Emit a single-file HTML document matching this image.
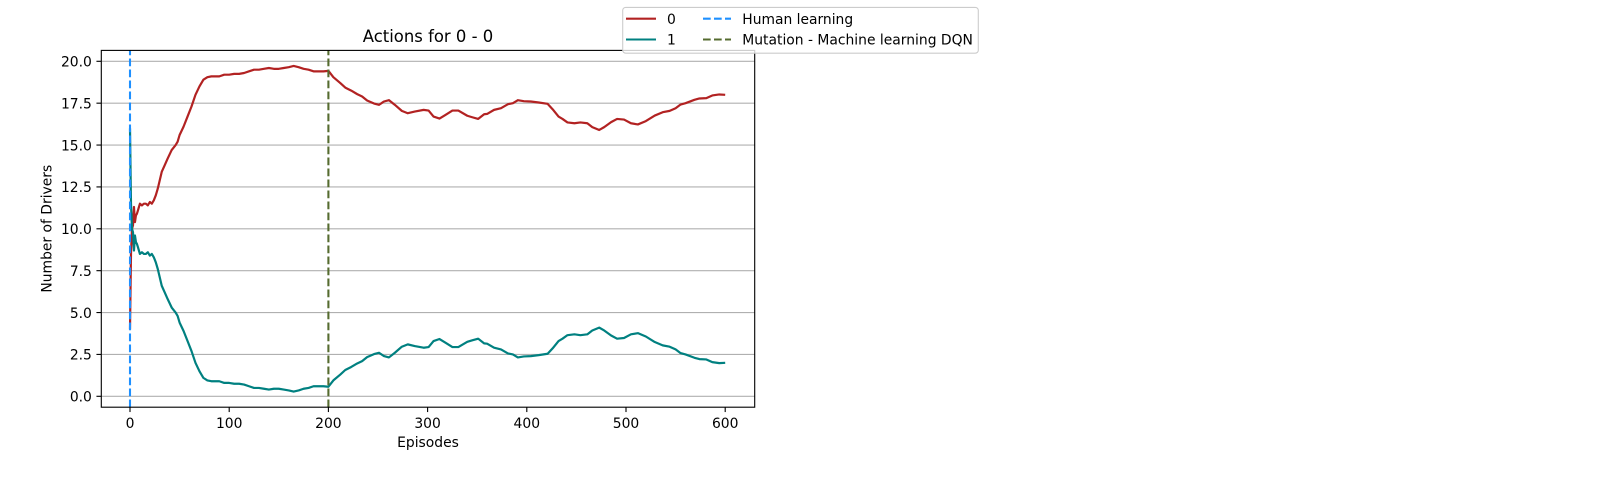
<!DOCTYPE html>
<html>
<head>
<meta charset="utf-8">
<title>Actions for 0 - 0</title>
<style>
html,body{margin:0;padding:0;background:#fff;width:1600px;height:500px;overflow:hidden}
svg{display:block}
text{font-family:"DejaVu Sans","Liberation Sans",sans-serif;fill:#000}
</style>
</head>
<body>
<svg id="chart" width="1600" height="500" viewBox="0 0 1600 500" xmlns="http://www.w3.org/2000/svg">
  <rect x="0" y="0" width="1600" height="500" fill="#fff"/>
  <g id="grid"></g>
  <g id="marks"></g>
  <g id="spines"></g>
  <g id="xticks"></g>
  <g id="yticks"></g>
  <text x="428" y="42" font-size="16.45" text-anchor="middle">Actions for 0 - 0</text>
  <text x="428" y="447" font-size="13.89" text-anchor="middle">Episodes</text>
  <text transform="translate(51.5,228.7) rotate(-90)" x="0" y="0" font-size="13.89" text-anchor="middle">Number of Drivers</text>
  <g>
    <rect x="622.7" y="7.4" width="355.6" height="45.8" rx="3" ry="3" fill="#fff" fill-opacity="0.8" stroke="#ccc" stroke-width="1.1"/>
    <line x1="626" y1="18.7" x2="656" y2="18.7" stroke="#b22222" stroke-width="2.08"/>
    <text x="667" y="24" font-size="13.89">0</text>
    <line x1="626" y1="39.5" x2="656" y2="39.5" stroke="#008080" stroke-width="2.08"/>
    <text x="667" y="44.7" font-size="13.89">1</text>
    <line x1="703" y1="18.7" x2="731" y2="18.7" stroke="#1e90ff" stroke-width="2.08" stroke-dasharray="7.7 3.3"/>
    <text x="742.3" y="24" font-size="13.85">Human learning</text>
    <line x1="703" y1="39.5" x2="731" y2="39.5" stroke="#556b2f" stroke-width="2.08" stroke-dasharray="7.7 3.3"/>
    <text x="742.3" y="44.7" font-size="13.89">Mutation - Machine learning DQN</text>
  </g>
</svg>
<script>
const episodes = [0,1,2,3,4,5,6,7,8,10,12,14,16,18,20,22,24,26,28,30,32,35,38,42,46,48,50,54,58,62,66,70,74,78,82,90,95,100,105,110,115,120,125,130,135,140,145,150,155,160,165,170,175,180,185,190,195,200,205,212,217,223,229,234,239,246,251,256,261,267,274,280,287,296,301,306,312,318,325,331,340,345,351,357,360,367,374,381,386,391,397,404,412,421,426,432,436,441,448,454,461,466,473,478,485,491,498,505,512,520,529,537,544,550,555,560,569,574,581,587,594,600];
const series0 = [4.0,8.5,10.0,10.2,11.3,10.4,10.8,10.9,11.1,11.5,11.4,11.5,11.5,11.4,11.6,11.5,11.7,12.0,12.4,12.9,13.4,13.8,14.2,14.7,15.0,15.2,15.6,16.1,16.7,17.3,18.0,18.5,18.9,19.05,19.1,19.1,19.2,19.2,19.25,19.25,19.3,19.4,19.5,19.5,19.55,19.6,19.55,19.55,19.6,19.65,19.72,19.65,19.55,19.5,19.4,19.4,19.4,19.43,19.05,18.7,18.43,18.25,18.04,17.9,17.66,17.48,17.4,17.6,17.68,17.4,17.04,16.9,17.0,17.1,17.06,16.7,16.58,16.8,17.06,17.06,16.75,16.66,16.56,16.84,16.86,17.1,17.2,17.44,17.5,17.68,17.62,17.6,17.54,17.46,17.14,16.7,16.56,16.35,16.3,16.35,16.3,16.07,15.9,16.07,16.37,16.56,16.52,16.3,16.23,16.43,16.76,16.96,17.04,17.2,17.42,17.5,17.7,17.78,17.8,17.96,18.02,18.0];
const series1 = [16.0,11.5,10.0,9.8,8.7,9.6,9.2,9.1,8.9,8.5,8.6,8.5,8.5,8.6,8.4,8.5,8.3,8.0,7.6,7.1,6.6,6.2,5.8,5.3,5.0,4.8,4.4,3.9,3.3,2.7,2.0,1.5,1.1,0.95,0.9,0.9,0.8,0.8,0.75,0.75,0.7,0.6,0.5,0.5,0.45,0.4,0.45,0.45,0.4,0.35,0.28,0.35,0.45,0.5,0.6,0.6,0.6,0.57,0.95,1.3,1.57,1.75,1.96,2.1,2.34,2.52,2.6,2.4,2.32,2.6,2.96,3.1,3.0,2.9,2.94,3.3,3.42,3.2,2.94,2.94,3.25,3.34,3.44,3.16,3.14,2.9,2.8,2.56,2.5,2.32,2.38,2.4,2.46,2.54,2.86,3.3,3.44,3.65,3.7,3.65,3.7,3.93,4.1,3.93,3.63,3.44,3.48,3.7,3.77,3.57,3.24,3.04,2.96,2.8,2.58,2.5,2.3,2.22,2.2,2.04,1.98,2.0];
const xTickValues = [0,100,200,300,400,500,600];
const yTickValues = [0,2.5,5,7.5,10,12.5,15,17.5,20];
const yTickLabels = ["0.0","2.5","5.0","7.5","10.0","12.5","15.0","17.5","20.0"];
const humanLearningEpisode = [0];
const mutationEpisode = [200];

const NS = "http://www.w3.org/2000/svg";
const plotLeft = 101.3, plotRight = 754.7, plotTop = 50.4, plotBottom = 407.2;
const xScale = function (v) { return 130 + v * 0.992; };
const yScale = function (v) { return 396.3 - v * 16.75; };

function make(tag, attrs, parent) {
  const el = document.createElementNS(NS, tag);
  for (const k in attrs) el.setAttribute(k, attrs[k]);
  parent.appendChild(el);
  return el;
}
function seriesPath(xs, ys) {
  return xs.map(function (x, i) {
    return (i ? "L" : "M") + xScale(x).toFixed(2) + " " + yScale(ys[i]).toFixed(2);
  }).join(" ");
}

const gridG = document.getElementById("grid");
const marksG = document.getElementById("marks");
const spinesG = document.getElementById("spines");
const xticksG = document.getElementById("xticks");
const yticksG = document.getElementById("yticks");

yTickValues.forEach(function (v, i) {
  const y = yScale(v);
  const g = make("line", {x1: plotLeft, x2: plotRight, y1: y, y2: y, stroke: "#b0b0b0", "stroke-width": 1.11}, gridG);
  
  
  const t = make("line", {x1: plotLeft - 4.86, x2: plotLeft, y1: y, y2: y, stroke: "#000", "stroke-width": 1.11}, yticksG);
  
  
  const l = make("text", {x: plotLeft - 9.4, y: y + 5.2, "font-size": 13.89, "text-anchor": "end"}, yticksG);
  l.textContent = yTickLabels[i];
  
  
});

xTickValues.forEach(function (v) {
  const x = xScale(v);
  const t = make("line", {x1: x, x2: x, y1: plotBottom, y2: plotBottom + 4.86, stroke: "#000", "stroke-width": 1.11}, xticksG);
  
  
  const l = make("text", {x: x, y: 428, "font-size": 13.89, "text-anchor": "middle"}, xticksG);
  l.textContent = String(v);
  
  
});

const line0 = make("path", {d: seriesPath(episodes, series0), fill: "none", stroke: "#b22222", "stroke-width": 2.2, "stroke-linejoin": "round"}, marksG);



const line1 = make("path", {d: seriesPath(episodes, series1), fill: "none", stroke: "#008080", "stroke-width": 2.2, "stroke-linejoin": "round"}, marksG);



const humanLine = make("line", {x1: xScale(humanLearningEpisode[0]), x2: xScale(humanLearningEpisode[0]), y1: plotBottom, y2: plotTop, stroke: "#1e90ff", "stroke-width": 2.08, "stroke-dasharray": "7.7 3.3"}, marksG);



const mutationLine = make("line", {x1: xScale(mutationEpisode[0]), x2: xScale(mutationEpisode[0]), y1: plotBottom, y2: plotTop, stroke: "#556b2f", "stroke-width": 2.08, "stroke-dasharray": "7.7 3.3"}, marksG);



const frame = make("rect", {x: plotLeft, y: plotTop, width: plotRight - plotLeft, height: plotBottom - plotTop, fill: "none", stroke: "#000", "stroke-width": 1.11}, spinesG);


</script>
</body>
</html>
